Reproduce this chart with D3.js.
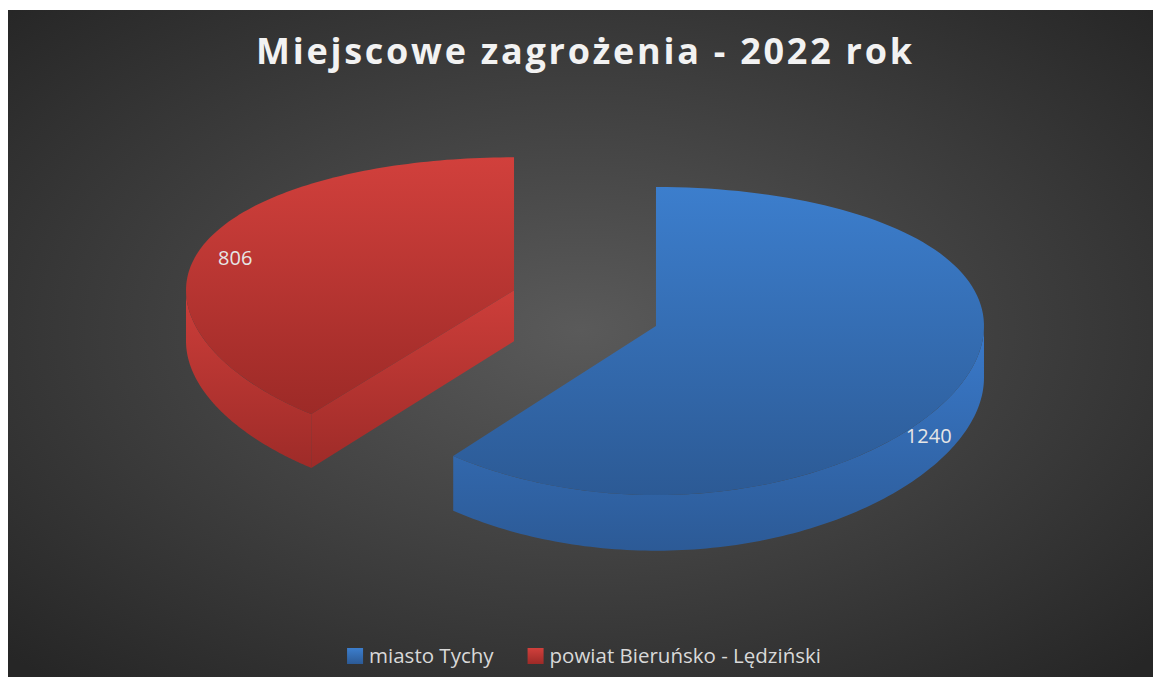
<!DOCTYPE html>
<html>
<head>
<meta charset="utf-8">
<script src="https://cdn.jsdelivr.net/npm/d3@7"></script>
<style>
  body { margin: 0; background: #fff; }
  svg { display: block; }
  text { font-family: "Open Sans", "DejaVu Sans", sans-serif; }
</style>
</head>
<body>
<div id="chart"></div>
<script>
// data
const title = "Miejscowe zagrożenia - 2022 rok";
const categories = ["miasto Tychy", "powiat Bieruńsko - Lędziński"];
const values = [1240, 806];

// colours (light, dark) for top face and side faces
const topColors = [["#3c7ecd", "#2c5a95"], ["#d1403c", "#9d2a27"]];
const sideColors = [["#3a7acb", "#2c5a96"], ["#cd3e3a", "#9e2b28"]];
// where each data label sits: angle (deg, clockwise from top) and radius
const labelSpots = [{ a: 129, r: 1.07 }, { a: 285, r: 0.88 }];

const W = 1153, H = 677;
const CX = 585, CY = 308;
const SX = 328, K = 328;
const SIN_A = 0.4545, COS_A = Math.sqrt(1 - SIN_A * SIN_A);
const DIST = 9.26;
const THICK = 0.177;
const EXPLODE = 0.229, EXPLODE_Z = 1.6;
const STEPS = 120;

// world: x right, y up, z going back. x is kept flat, y/z get perspective
const project = (x, y, z) => {
  const depth = DIST - y * SIN_A + z * COS_A;
  const sy = y * COS_A + z * SIN_A;
  return [CX + SX * x, CY - K * sy * DIST / depth];
};

const svg = d3.select("#chart").append("svg")
  .attr("width", W)
  .attr("height", H);

const defs = svg.append("defs");

const bg = defs.append("radialGradient")
  .attr("id", "bg")
  .attr("cx", "50%").attr("cy", "48%").attr("r", "70%");
bg.append("stop").attr("offset", "0%").attr("stop-color", "#5a5a5a");
bg.append("stop").attr("offset", "100%").attr("stop-color", "#262626");

const addLinear = (id, c) => {
  const g = defs.append("linearGradient")
    .attr("id", id)
    .attr("x1", 0).attr("y1", 0).attr("x2", 0).attr("y2", 1);
  g.append("stop").attr("offset", "0%").attr("stop-color", c[0]);
  g.append("stop").attr("offset", "100%").attr("stop-color", c[1]);
};
categories.forEach((c, i) => {
  addLinear("top" + i, topColors[i]);
  addLinear("side" + i, sideColors[i]);
});

svg.append("rect")
  .attr("x", 8).attr("y", 10)
  .attr("width", W - 8).attr("height", H - 10)
  .attr("fill", "url(#bg)");

svg.append("text")
  .attr("x", 584)
  .attr("y", 64)
  .attr("text-anchor", "middle")
  .attr("font-size", 36)
  .attr("font-weight", 700)
  .attr("fill", "#f2f2f2")
  .attr("textLength", 656)
  .attr("lengthAdjust", "spacing")
  .text(title);

const pie = d3.pie().sort(null).value((d) => d);
const arcs = pie(values).map((d, i) => {
  const mid = (d.startAngle + d.endAngle) / 2;
  return {
    ...d,
    i,
    ox: Math.sin(mid) * EXPLODE,
    oz: Math.cos(mid) * EXPLODE * EXPLODE_Z
  };
});

const line = d3.line();

const rim = (d, a, y) => project(d.ox + Math.sin(a), y, d.oz + Math.cos(a));
const apex = (d, y) => project(d.ox, y, d.oz);
const arcPts = (d, a0, a1, y) =>
  d3.range(STEPS + 1).map((k) => rim(d, a0 + (a1 - a0) * k / STEPS, y));

const pieG = svg.append("g");

// back slices first
arcs.slice().sort((a, b) => b.oz - a.oz).forEach((d) => {
  const g = pieG.append("g");
  const a0 = d.startAngle, a1 = d.endAngle;

  // outer wall, only the part that faces the viewer
  const s = Math.max(a0, Math.PI / 2), e = Math.min(a1, Math.PI * 1.5);
  if (e > s) {
    const pts = arcPts(d, s, e, 0).concat(arcPts(d, e, s, -THICK));
    g.append("path").attr("d", line(pts) + "Z").attr("fill", `url(#side${d.i})`);
  }
  // cut faces
  if (Math.sin(a0) < -1e-6) {
    const pts = [apex(d, 0), rim(d, a0, 0), rim(d, a0, -THICK), apex(d, -THICK)];
    g.append("path").attr("d", line(pts) + "Z").attr("fill", `url(#side${d.i})`);
  }
  if (Math.sin(a1) > 1e-6) {
    const pts = [apex(d, 0), rim(d, a1, 0), rim(d, a1, -THICK), apex(d, -THICK)];
    g.append("path").attr("d", line(pts) + "Z").attr("fill", `url(#side${d.i})`);
  }
  // top
  const top = [apex(d, 0)].concat(arcPts(d, a0, a1, 0));
  g.append("path").attr("d", line(top) + "Z").attr("fill", `url(#top${d.i})`);
});

// data labels
arcs.forEach((d) => {
  const spot = labelSpots[d.i];
  const a = spot.a * Math.PI / 180;
  const p = project(d.ox + Math.sin(a) * spot.r, 0, d.oz + Math.cos(a) * spot.r);
  svg.append("text")
    .attr("x", p[0])
    .attr("y", p[1])
    .attr("dy", "0.35em")
    .attr("text-anchor", "middle")
    .attr("font-size", 20)
    .attr("fill", "#e6e6e6")
    .text(d.data);
});

// legend
const legend = svg.append("g");
const SW = 16, GAP = 6, ITEM_GAP = 34;
let lx = 0;
categories.forEach((c, i) => {
  const it = legend.append("g").attr("transform", `translate(${lx},0)`);
  it.append("rect")
    .attr("x", 0).attr("y", -SW + 1)
    .attr("width", SW).attr("height", SW)
    .attr("fill", `url(#top${i})`);
  const t = it.append("text")
    .attr("x", SW + GAP)
    .attr("y", 0)
    .attr("font-size", 20.5)
    .attr("fill", "#d9d9d9")
    .text(c);
  lx += SW + GAP + t.node().getComputedTextLength() + ITEM_GAP;
});
const legendW = lx - ITEM_GAP;
legend.attr("transform", `translate(${584 - legendW / 2},663)`);
</script>
</body>
</html>
